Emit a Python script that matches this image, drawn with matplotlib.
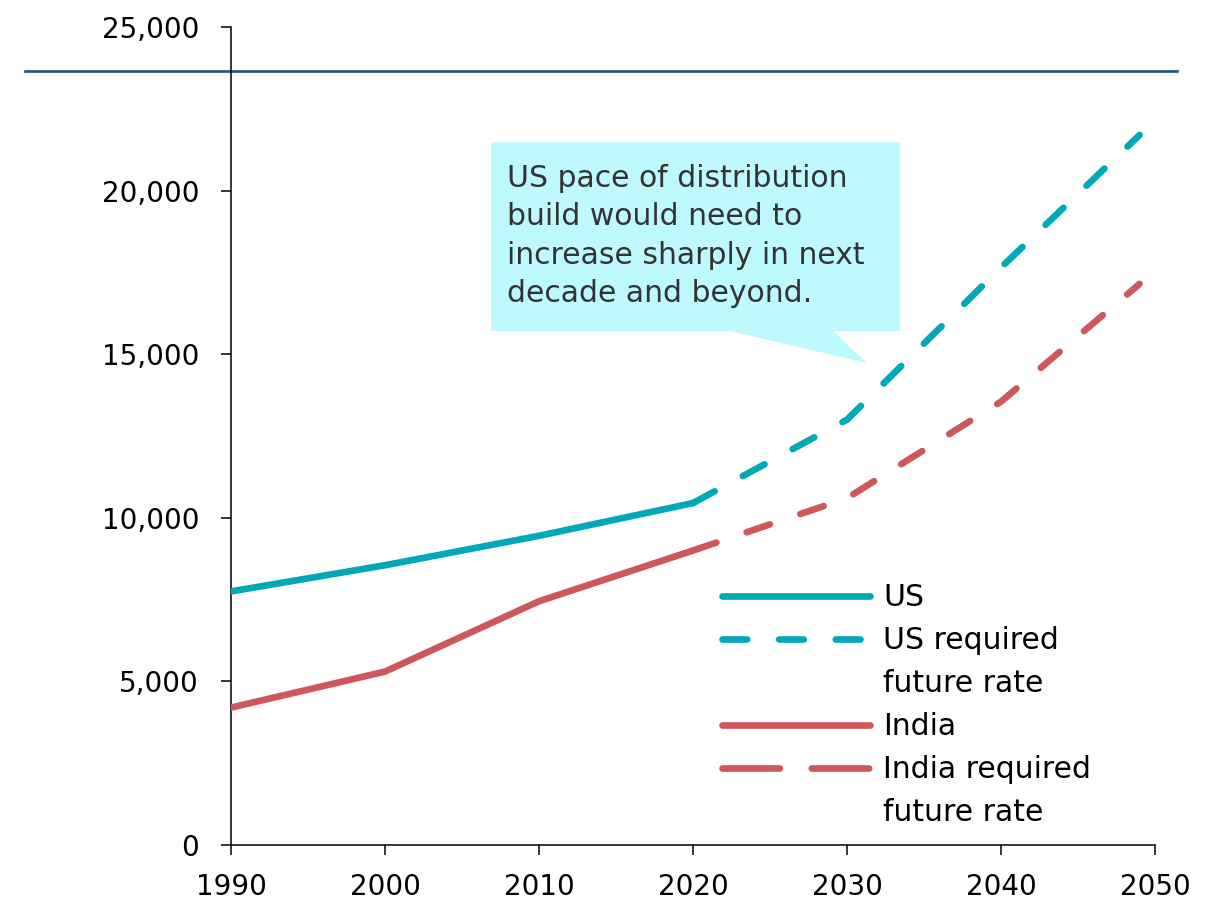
import matplotlib
matplotlib.use('Agg')
import matplotlib.pyplot as plt
from matplotlib.lines import Line2D
from matplotlib.patches import Polygon
import matplotlib.ticker as ticker

# === DATA ===
hist_years = [1990, 2000, 2010, 2020]
us_hist = [7750, 8550, 9450, 10450]
india_hist = [4200, 5300, 7450, 9000]

future_years = [2020, 2030, 2040, 2049]
us_future = [10450, 13000, 17650, 21700]
india_future = [9000, 10600, 13550, 17150]

target_level = 23650

x_ticks = [1990, 2000, 2010, 2020, 2030, 2040, 2050]
y_ticks = [0, 5000, 10000, 15000, 20000, 25000]

note_text = ('US pace of distribution\nbuild would need to\n'
             'increase sharply in next\ndecade and beyond.')

# === STYLE ===
US_COLOR = '#00a9b5'
INDIA_COLOR = '#cd575a'
LINE_COLOR = '#1c5380'
NOTE_FILL = '#bdf9fd'
LW = 4.8
TICK_FS = 20
TEXT_FS = 21.5

plt.rcParams['font.family'] = ['DejaVu Sans']

fig = plt.figure(figsize=(12.11, 9.01), dpi=100)
ax = fig.add_axes([231 / 1211, 1 - 845 / 901, 924 / 1211, 818 / 901])

# lines
ax.plot(hist_years, us_hist, color=US_COLOR, lw=LW, solid_capstyle='round', zorder=3)
ax.plot(future_years, us_future, color=US_COLOR, lw=LW, dashes=(3.7, 4.8),
        dash_capstyle='round', zorder=3)
ax.plot(hist_years, india_hist, color=INDIA_COLOR, lw=LW, solid_capstyle='round', zorder=3)
ax.plot(future_years, india_future, color=INDIA_COLOR, lw=LW, dashes=(3.7, 4.8),
        dash_capstyle='round', zorder=3)

# horizontal reference line, running past both ends of the axis
ax.axhline(target_level, xmin=-0.223, xmax=1.024, color=LINE_COLOR, lw=1.9,
           clip_on=False, zorder=2)

# axes
ax.set_xlim(1990, 2050)
ax.set_ylim(0, 25000)
ax.set_xticks(x_ticks)
ax.set_yticks(y_ticks)
ax.yaxis.set_major_formatter(ticker.StrMethodFormatter('{x:,.0f}'))
for side in ['top', 'right']:
    ax.spines[side].set_visible(False)
for side in ['left', 'bottom']:
    ax.spines[side].set_linewidth(1.1)
ax.tick_params(axis='both', direction='out', length=7, width=1.1, labelsize=TICK_FS)
ax.tick_params(axis='y', pad=16)
ax.tick_params(axis='x', pad=13)

# callout box with pointer
note_poly = [(2006.9, 21480), (2033.45, 21480), (2033.45, 15710), (2029.1, 15710),
             (2031.3, 14730), (2022.4, 15710), (2006.9, 15710)]
ax.add_patch(Polygon(note_poly, closed=True, facecolor=NOTE_FILL, edgecolor='none',
                     zorder=1))
ax.text(2007.9, 20820, note_text, fontsize=TEXT_FS, color='#333333', va='top', ha='left',
        linespacing=1.41, zorder=4)

# legend: continuation lines get blank handles so handles sit on the first line
blank = Line2D([], [], color='none')
handles = [
    Line2D([], [], color=US_COLOR, lw=LW, solid_capstyle='round'),
    Line2D([], [], color=US_COLOR, lw=LW, dashes=(3.7, 4.8), dash_capstyle='round'),
    blank,
    Line2D([], [], color=INDIA_COLOR, lw=LW, solid_capstyle='round'),
    Line2D([], [], color=INDIA_COLOR, lw=LW, dashes=(8.6, 4.8), dash_capstyle='round'),
    blank,
]
labels = ['US', 'US required', 'future rate', 'India', 'India required', 'future rate']
fig.legend(handles, labels, loc='upper left', bbox_to_anchor=(722 / 1211, 1 - 583 / 901),
           frameon=False, fontsize=TEXT_FS, handlelength=148 / (TEXT_FS * 100 / 72),
           handletextpad=0.45, borderpad=0, borderaxespad=0, labelspacing=0.47)

fig.savefig('out.png', dpi=100)
